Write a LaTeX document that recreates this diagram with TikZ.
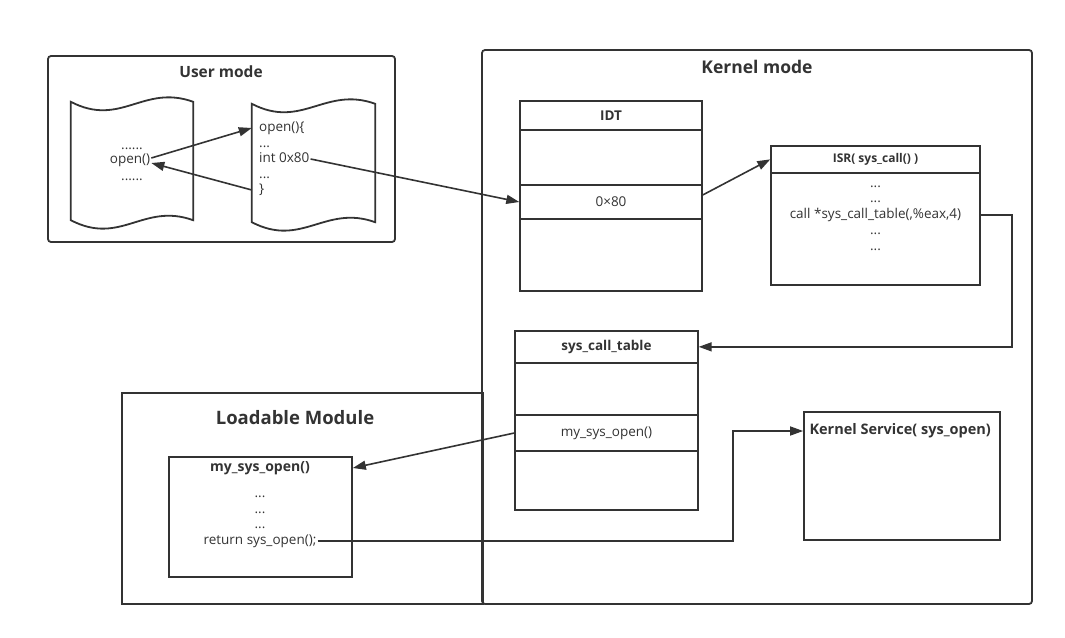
\documentclass[tikz,border=0pt]{standalone}
\usepackage{fontspec}
\setmainfont{Open Sans}
\usetikzlibrary{arrows.meta,positioning,calc}
\definecolor{inkgray}{RGB}{51,51,51}
\tikzset{
  % frames round the three regions
  frame/.style={draw=inkgray, line width=1.8pt, inner sep=0pt},
  roundframe/.style={frame, rounded corners=3pt},
  % tables and their rows
  tbl/.style={draw=inkgray, line width=1.7pt, inner sep=0pt},
  cell/.style={draw=inkgray, line width=1.4pt, inner sep=0pt, font=\fontsize{13.5}{15}\selectfont, text=inkgray},
  headcell/.style={cell, font=\fontsize{13.5}{15}\selectfont\bfseries},
  % texts
  title/.style={font=\fontsize{15.5}{18}\selectfont\bfseries, text=inkgray},
  txt/.style={font=\fontsize{13.5}{15}\selectfont, text=inkgray, inner sep=1pt, text height=9.5pt, text depth=3pt},
  % arrows
  arr/.style={-{Triangle[length=13pt,width=9pt]}, line width=1.6pt, draw=inkgray},
}
% wavy document outline round a node
\newcommand{\wavydoc}[1]{%
  \draw[draw=inkgray, line width=1.8pt] (#1.north west)
    .. controls +(50,26) and +(-50,-18) .. (#1.north east)
    -- (#1.south east)
    .. controls +(-50,-18) and +(50,26) .. (#1.south west) -- cycle;}

\begin{document}
\begin{tikzpicture}[x=1pt,y=-1pt]
  \useasboundingbox (0,0) rectangle (1065,637);

  % User mode
  \node[roundframe, minimum width=347pt, minimum height=186pt] (user) at (221.5,149) {};
  \node[title] (usertitle) at (221,72) {User mode};
  \node[minimum width=122pt, minimum height=118pt] (userprog) at (132,161) {};
  \wavydoc{userprog}
  \node[minimum width=123pt, minimum height=118pt] (libopen) at (313.5,163) {};
  \wavydoc{libopen}
  \node[txt] (dotsa) at (132,146) {......};
  \node[txt] (callopen) at (130,160) {open()};
  \node[txt] (dotsb) at (132,177) {......};
  \node[txt, anchor=west] (lib1) at (258,128) {open()\{};
  \node[txt, anchor=west] (lib2) at (258,144) {...};
  \node[txt, anchor=west] (lib3) at (258,159) {int 0x80};
  \node[txt, anchor=west] (lib4) at (258,175) {...};
  \node[txt, anchor=west] (lib5) at (258,190) {\}};

  % Kernel mode
  \node[roundframe, minimum width=550pt, minimum height=554pt] (kernel) at (757,327) {};
  \node[title, font=\fontsize{17.5}{20}\selectfont\bfseries] (kerneltitle) at (757,67) {Kernel mode};

  % IDT
  \node[tbl, minimum width=182pt, minimum height=190pt] (idt) at (611,196) {};
  \node[headcell, anchor=north, minimum width=182pt, minimum height=29pt] (idthead) at (idt.north) {IDT};
  \node[cell, minimum width=182pt, minimum height=34pt] (idtrow) at (611,202) {0×80};

  % ISR
  \node[tbl, minimum width=209pt, minimum height=139pt] (isr) at (875.5,215.5) {};
  \node[headcell, font=\fontsize{12}{14}\selectfont\bfseries, anchor=north, minimum width=209pt, minimum height=27pt] (isrhead) at (isr.north) {ISR( sys\_call() )};
  \node[txt] (isra) at (875.5,184) {...};
  \node[txt] (isrb) at (875.5,199) {...};
  \node[txt] (isrcall) at (875.5,215) {call *sys\_call\_table(,\%eax,4)};
  \node[txt] (isrc) at (875.5,231) {...};
  \node[txt] (isrd) at (875.5,247) {...};

  % sys_call_table
  \node[tbl, minimum width=183pt, minimum height=179pt] (sct) at (606.5,420.5) {};
  \node[headcell, anchor=north, minimum width=183pt, minimum height=32pt] (scthead) at (sct.north) {sys\_call\_table};
  \node[cell, minimum width=183pt, minimum height=36pt] (sctrow) at (606.5,433) {my\_sys\_open()};

  % Kernel service
  \node[tbl, minimum width=196pt, minimum height=128pt] (ksvc) at (902,476) {};
  \node[title, font=\fontsize{14.5}{16}\selectfont\bfseries, anchor=west] (ksvctitle) at (806,431) {Kernel Service( sys\_open)};

  % Loadable module
  \node[frame, minimum width=361pt, minimum height=211pt] (module) at (302.5,498.5) {};
  \node[title, font=\fontsize{18.5}{22}\selectfont\bfseries] (moduletitle) at (295,418) {Loadable Module};
  \node[tbl, minimum width=183pt, minimum height=120pt] (mysys) at (260.5,517) {};
  \node[title, font=\fontsize{14}{16}\selectfont\bfseries] (mytitle) at (260,468) {my\_sys\_open()};
  \node[txt] (mya) at (260,494) {...};
  \node[txt] (myb) at (260,510) {...};
  \node[txt] (myc) at (260,525) {...};
  \node[txt] (myret) at (260,541) {return sys\_open();};
  \coordinate (bend) at (733,431);

  % calls
  \draw[arr] ([yshift=2pt]callopen.east) -- (libopen.west |- lib1);
  \draw[arr] (libopen.west |- lib5) -- ([yshift=-3pt]callopen.east);
  \draw[arr] (lib3.east) -- (idtrow.west);
  \draw[arr] ([yshift=7pt]idtrow.east) -- (isrhead.west);
  \draw[arr] (isr.east |- isrcall) -- ++(31,0) |- (scthead.east);
  \draw[arr] (sctrow.west) -- (mysys.east |- mytitle);
  \draw[arr] (myret.east) -| (bend) -- (ksvc.west |- ksvctitle);
\end{tikzpicture}
\end{document}
